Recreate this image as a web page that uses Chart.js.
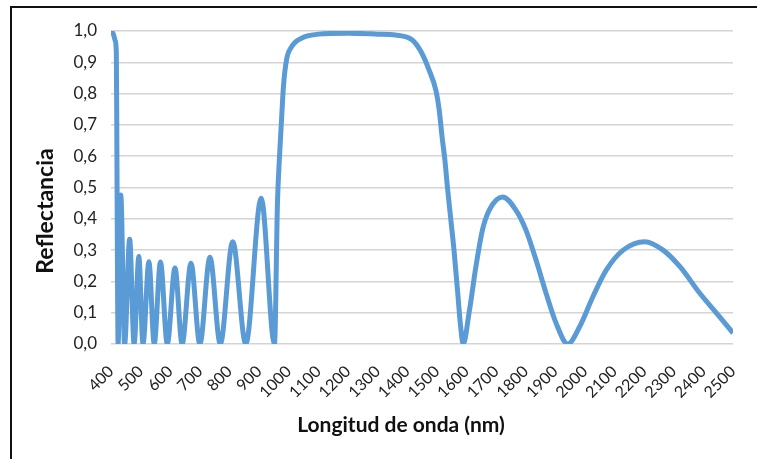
<!DOCTYPE html>
<html>
<head>
<meta charset="utf-8">
<script src="https://cdn.jsdelivr.net/npm/chart.js@4.4.1/dist/chart.umd.min.js"></script>
<style>
  body { margin: 0; background: #fff; }
  #wrap { position: relative; width: 757px; height: 459px; overflow: hidden; }
  #frame { position: absolute; left: 10px; top: 6px; width: 800px; height: 500px; border: 2px solid #111; box-sizing: border-box; }
  canvas { position: absolute; left: 0; top: 0; }
</style>
</head>
<body>
<div id="wrap">
  <div id="frame"></div>
  <canvas id="chart" width="757" height="459"></canvas>
</div>
<script>
// DATA
const wavelength = [
    400, 408, 414, 418, 420, 422, 424, 433, 446, 463, 478, 494, 508, 528, 546,
    567, 590, 616, 640, 670, 700, 734, 769, 811, 855, 907, 952, 962, 969, 976,
    982, 993, 1010, 1023, 1045, 1067, 1101, 1200, 1300, 1360, 1416, 1446, 1474,
    1497, 1508, 1518, 1527, 1536, 1547, 1558, 1570, 1580, 1589, 1609, 1632, 1654,
    1677, 1722, 1767, 1801, 1835, 1869, 1903, 1942, 1982, 2027, 2072, 2129, 2202,
    2264, 2321, 2388, 2445, 2500
];
const reflectance = [
    1.0, 0.99, 0.97, 0.93, 0.6, 0.2, 0.0, 0.476, 0.0, 0.335, 0.0, 0.28, 0.0, 0.263, 0.0,
    0.262, 0.0, 0.243, 0.0, 0.258, 0.0, 0.277, 0.0, 0.327, 0.0, 0.466, 0.0, 0.45, 0.6, 0.72,
    0.82, 0.91, 0.95, 0.965, 0.978, 0.985, 0.99, 0.993, 0.99, 0.987, 0.972, 0.935, 0.875,
    0.81, 0.748, 0.66, 0.59, 0.50, 0.40, 0.30, 0.17, 0.06, 0.0, 0.1, 0.247, 0.364,
    0.428, 0.47, 0.428, 0.364, 0.268, 0.162, 0.066, 0.0, 0.055, 0.151, 0.236, 0.3, 0.327,
    0.3, 0.247, 0.162, 0.098, 0.035
];
const xTickValues = [400, 500, 600, 700, 800, 900, 1000, 1100, 1200, 1300, 1400,
    1500, 1600, 1700, 1800, 1900, 2000, 2100, 2200, 2300, 2400, 2500];
const yTickValues = [0, 0.1, 0.2, 0.3, 0.4, 0.5, 0.6, 0.7, 0.8, 0.9, 1.0];
const xTitle = "Longitud de onda (nm)";
const yTitle = "Reflectancia";

const FONT = "Lato, 'Open Sans', sans-serif";

// axis titles drawn at fixed spots like the Excel original
const axisTitles = {
    id: "axisTitles",
    afterDraw(chart) {
        const ctx = chart.ctx;
        ctx.save();
        ctx.fillStyle = "#111";
        ctx.textAlign = "center";
        ctx.textBaseline = "middle";
        ctx.font = "bold 21px " + FONT;
        ctx.fillText(xTitle, 401, 425);
        ctx.translate(46, 211);
        ctx.rotate(-Math.PI / 2);
        ctx.font = "bold 23px " + FONT;
        ctx.fillText(yTitle, 0, 0);
        ctx.restore();
    }
};

new Chart(document.getElementById("chart"), {
    type: "line",
    data: {
        datasets: [{
            data: wavelength.map((w, i) => ({ x: w, y: reflectance[i] })),
            borderColor: "#5B9BD5",
            borderWidth: 5,
            pointRadius: 0,
            cubicInterpolationMode: "monotone",
            fill: false
        }]
    },
    options: {
        responsive: false,
        animation: false,
        layout: { padding: { left: 0, top: 31, right: 24, bottom: 0 } },
        plugins: { legend: { display: false }, tooltip: { enabled: false } },
        scales: {
            x: {
                type: "linear",
                min: 400,
                max: 2500,
                afterBuildTicks: s => { s.ticks = xTickValues.map(v => ({ value: v })); },
                afterFit: s => { s.height = 115; },
                grid: { display: false },
                border: { display: false },
                ticks: {
                    autoSkip: false,
                    minRotation: 45,
                    maxRotation: 45,
                    padding: 10,
                    color: "#222",
                    font: { family: FONT, size: 16 },
                    callback: v => String(v)
                }
            },
            y: {
                min: 0,
                max: 1,
                afterBuildTicks: s => { s.ticks = yTickValues.map(v => ({ value: v })); },
                afterFit: s => { s.width = 111; },
                grid: { color: "#d4d4d4", lineWidth: 1.5, drawTicks: false },
                border: { display: false },
                ticks: {
                    padding: 14,
                    color: "#222",
                    font: { family: FONT, size: 17 },
                    callback: v => v.toFixed(1).replace(".", ",")
                }
            }
        }
    },
    plugins: [axisTitles]
});
</script>
</body>
</html>
